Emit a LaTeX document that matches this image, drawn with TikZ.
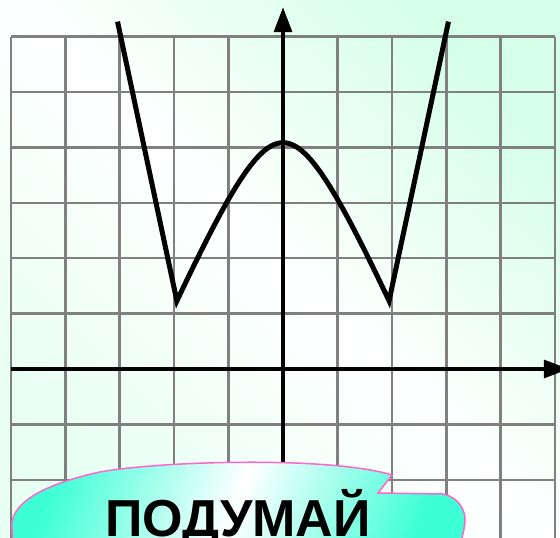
\documentclass[tikz,border=0pt]{standalone}
\usepackage{fontspec}
\newfontfamily\labelfont{Liberation Sans}
\usetikzlibrary{arrows.meta}
\definecolor{mintbg}{RGB}{214,255,234}
\definecolor{mintlight}{RGB}{232,255,244}
\definecolor{gridgray}{RGB}{128,128,128}
\definecolor{turq}{RGB}{60,255,214}
\definecolor{pinkedge}{RGB}{255,102,204}
\tikzset{
  gridline/.style={draw=gridgray, line width=2.5pt},
  axisline/.style={draw=black, line width=3.4pt, -{Triangle[length=25pt,width=18pt]}},
  graphline/.style={draw=black, line width=5pt, line join=miter},
  bubble/.style={draw=pinkedge, line width=1.5pt},
}
\begin{document}
\begin{tikzpicture}[x=1pt,y=-1pt]
\useasboundingbox (0,0) rectangle (560,538);
\shade[top color=mintbg, bottom color=mintlight, middle color=white, shading angle=-45] (0,0) rectangle (560,538);
\begin{scope}[shift={(283,369)}, x=54.43pt, y=55.4pt]
  \foreach \i in {-5,...,5} \draw[gridline] (\i,-3.4) -- (\i,6);
  \foreach \j in {-2,...,6} \draw[gridline] (-5,\j) -- (5,\j);
  \coordinate (ybot) at (0,-3);
  \coordinate (ytop) at (0,6.53);
  \coordinate (xleft) at (-5,0);
  \coordinate (xright) at (5.25,0);
  \draw[axisline] (ybot) -- (ytop);
  \draw[axisline] (xleft) -- (xright);
  \coordinate (ltop) at (-3.04,6.27);
  \coordinate (rtop) at (3.04,6.27);
  \draw[graphline] (ltop) -- plot[domain=-1.95:1.95, samples=90] (\x,{4.085-2.29*(sqrt(0.81+\x*\x)-0.9)}) -- (rtop);
\end{scope}
\shade[bubble, left color=turq, right color=turq, middle color=white, shading angle=70]
  (13,548) -- (12,530) .. controls (8,505) and (40,485) .. (100,472)
  .. controls (160,461) and (330,456) .. (392,475)
  -- (378,493) -- (443,494)
  .. controls (458,497) and (466,510) .. (465,522)
  .. controls (464,532) and (461,540) .. (460,548) -- cycle;
\node[anchor=base, inner sep=0pt, font=\labelfont\bfseries\fontsize{52}{60}\selectfont] (think) at (238,536) {ПОДУМАЙ};
\end{tikzpicture}
\end{document}
